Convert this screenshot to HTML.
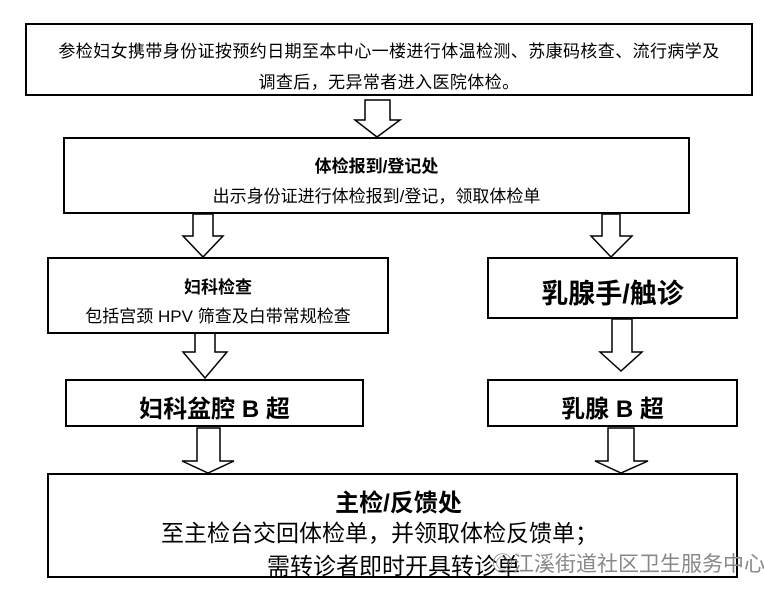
<!DOCTYPE html>
<html><head><meta charset="utf-8"><style>
body{margin:0;width:764px;height:591px;background:#fff;position:relative;overflow:hidden;font-family:"Liberation Sans","Noto Sans CJK SC",sans-serif;color:#000}
.b{position:absolute;border:2px solid #000;box-sizing:border-box}
.t{position:absolute;left:0;right:0;text-align:center;white-space:nowrap}
svg{position:absolute;left:0;top:0}
</style></head><body>
<svg width="764" height="591">
<g fill="#fff" stroke="#000" stroke-width="1.5">
<polygon points="365,100 390,100 390,120 400,120 377,137 355,120 365,120"/>
<polygon points="193,214 213,214 213,236 223,236 203,257 183,236 193,236"/>
<polygon points="602,214 620,214 620,236 632,236 611,257 591,236 602,236"/>
<polygon points="195,333 215,333 215,352 227,352 205,378 183,352 195,352"/>
<polygon points="612,319 632,319 632,352 642,352 621,371 600,352 612,352"/>
<polygon points="197,428 220,428 220,461 234,461 208,473 182,461 197,461"/>
<polygon points="608,428 634,428 634,461 648,461 621,473 595,461 608,461"/>
</g></svg>
<div class="b" style="left:25px;top:23px;width:728px;height:73px">
<div class="t" style="top:12px;font-size:17px;letter-spacing:0.4px">参检妇女携带身份证按预约日期至本中心一楼进行体温检测、苏康码核查、流行病学及</div>
<div class="t" style="top:43px;font-size:17px;letter-spacing:0.4px">调查后，无异常者进入医院体检。</div></div>
<div class="b" style="left:63px;top:137px;width:627px;height:77px">
<div class="t" style="top:13px;font-size:17px;font-weight:bold">体检报到/登记处</div>
<div class="t" style="top:43px;font-size:17px">出示身份证进行体检报到/登记，领取体检单</div></div>
<div class="b" style="left:47px;top:257px;width:342px;height:77px">
<div class="t" style="top:14px;font-size:17px;font-weight:bold">妇科检查</div>
<div class="t" style="top:43px;font-size:17px">包括宫颈 HPV 筛查及白带常规检查</div></div>
<div class="b" style="left:487px;top:257px;width:251px;height:62px">
<div class="t" style="top:13px;font-size:27px;font-weight:bold">乳腺手/触诊</div></div>
<div class="b" style="left:65px;top:379px;width:299px;height:48px">
<div class="t" style="top:8px;font-size:24px;font-weight:bold">妇科盆腔 B 超</div></div>
<div class="b" style="left:487px;top:379px;width:251px;height:48px">
<div class="t" style="top:8px;font-size:24px;font-weight:bold">乳腺 B 超</div></div>
<div class="b" style="left:47px;top:473px;width:691px;height:105px">
<div class="t" style="top:8px;font-size:24px;font-weight:bold;left:12px">主检/反馈处</div>
<div class="t" style="top:39px;font-size:23px;left:0;right:26px">至主检台交回体检单，并领取体检反馈单；</div>
<div class="t" style="top:72px;font-size:23px;left:218px;text-align:left">需转诊者即时开具转诊单</div></div>
<div style="position:absolute;left:492px;top:548px;font-size:21px;color:#888;white-space:nowrap">◎江溪街道社区卫生服务中心</div>
</body></html>
